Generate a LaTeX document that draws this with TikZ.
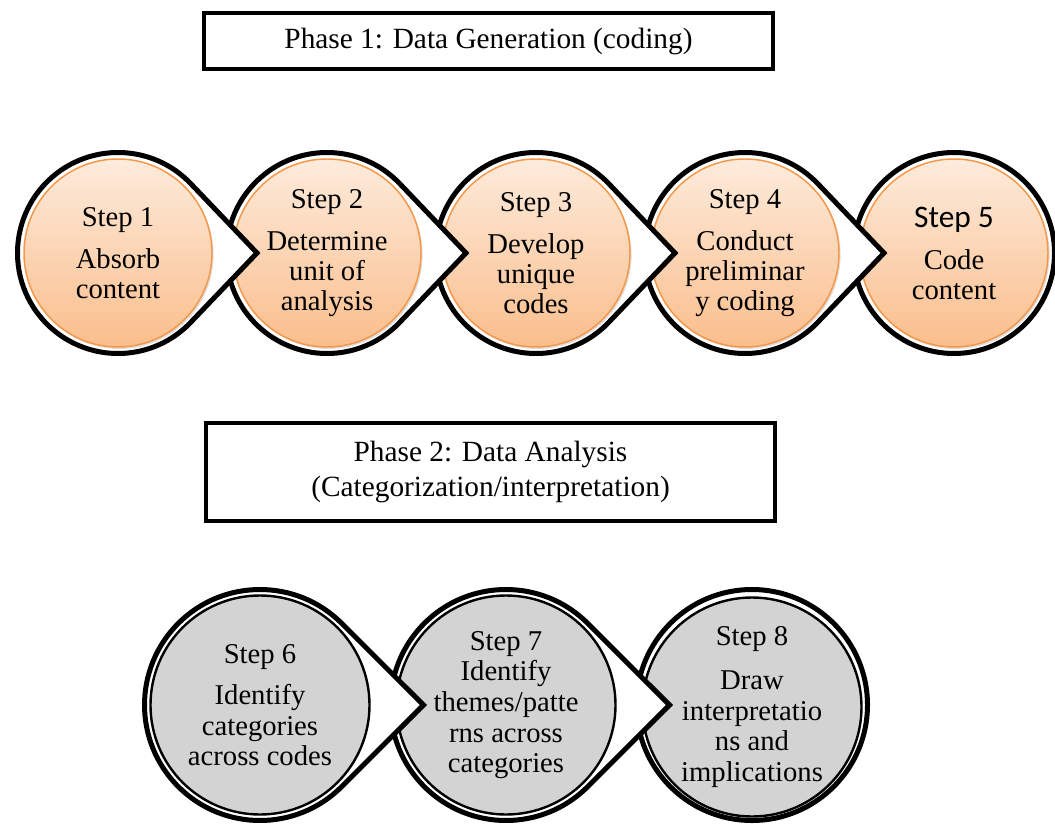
\documentclass[tikz,border=0pt]{standalone}
\usepackage{fontspec}
\setmainfont{Liberation Serif}
\newfontfamily\calibfont{Carlito}
\usetikzlibrary{shadows}
\definecolor{orTop}{RGB}{253,235,220}
\definecolor{orBot}{RGB}{250,190,140}
\definecolor{orLine}{RGB}{247,150,70}
\definecolor{grFill}{RGB}{211,211,211}
\tikzset{
  tear/.style={draw=black, line width=3.75pt, fill=white, line join=miter},
  orcirc/.style={circle, inner sep=0pt, minimum size=141pt, draw=orLine, line width=1.1pt,
    top color=orTop, bottom color=orBot, align=center,
    font=\fontsize{21.5}{22.5}\selectfont,
    drop shadow={opacity=0.25, shadow xshift=1.2pt, shadow yshift=-1.5pt}},
  grcirc/.style={circle, inner sep=0pt, minimum size=164.25pt, draw=black, line width=1.8pt,
    fill=grFill, align=center, font=\fontsize{21.5}{23}\selectfont},
  phasebox/.style={rectangle, draw=black, line width=3pt, fill=white, align=center,
    inner sep=0pt, minimum width=426.75pt, font=\fontsize{22}{26}\selectfont}
}
\newcommand\tearshape[4]{%
  \pgfmathsetmacro\tth{acos(#3/#4)}%
  \draw[tear] ([shift={(#1,#2)}]\tth:#3) arc[start angle=\tth, end angle=360-\tth, radius=#3]
    -- (#1+#4,#2) -- cycle;}
\begin{document}
\begin{tikzpicture}[x=0.75pt, y=0.75pt]
\useasboundingbox (0,0) rectangle (1055,826);

% Phase boxes
\node[phasebox, minimum height=42pt] (p1) at (488.5,785) {Phase 1: Data Generation (coding)};
\node[phasebox, minimum height=73.5pt] (p2) at (490.5,354) {Phase 2: Data Analysis\\(Categorization/interpretation)};

% Row 1 (drawn from last to first so each pointer lies on top)
\draw[tear] (954,573) circle[radius=100.5];
\node[orcirc] (s5) at (954,573) {{\calibfont\fontsize{23.5}{24}\selectfont Step 5}\\[9pt]Code\\content};

\tearshape{745}{573}{100.5}{139}
\node[orcirc] (s4) at (745,573) {Step 4\\[9pt]Conduct\\preliminar\\y coding};

\tearshape{536}{573}{100.5}{139}
\node[orcirc] (s3) at (536,573) {Step 3\\[9pt]Develop\\unique\\codes};

\tearshape{327}{573}{100.5}{139}
\node[orcirc] (s2) at (327,573) {Step 2\\[9pt]Determine\\unit of\\analysis};

\tearshape{118}{573}{100.5}{139}
\node[orcirc] (s1) at (118,573) {Step 1\\[9pt]Absorb\\content};

% Row 2
\draw[tear] (752,121) circle[radius=115.5];
\node[grcirc] (s8) at (752,119) {Step 8\\[10pt]Draw\\interpretatio\\ns and\\implications};

\tearshape{506}{121}{115.5}{163.5}
\node[grcirc] (s7) at (506,121) {Step 7\\Identify\\themes/patte\\rns across\\categories};

\tearshape{260}{121}{115.5}{163.5}
\node[grcirc] (s6) at (260,121) {Step 6\\[8pt]Identify\\categories\\across codes};
\end{tikzpicture}
\end{document}
